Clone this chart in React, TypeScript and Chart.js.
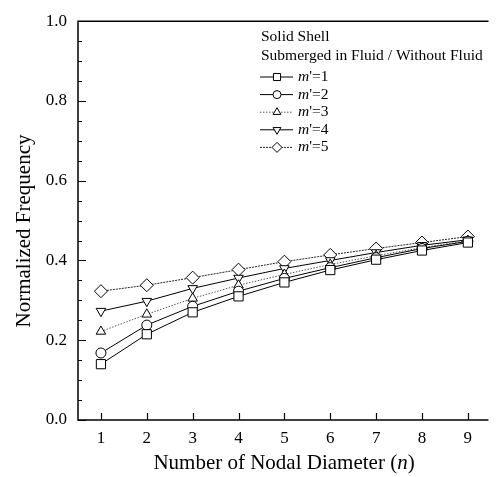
import React, { useEffect, useRef } from "react";
import { Chart, registerables } from "chart.js";
import { drawPoint } from "chart.js/helpers";

Chart.register(...registerables);

const nodalDiameters = [1, 2, 3, 4, 5, 6, 7, 8, 9];
const m1 = [0.14, 0.215, 0.27, 0.31, 0.345, 0.376, 0.402, 0.425, 0.445];
const m2 = [0.168, 0.238, 0.285, 0.323, 0.355, 0.382, 0.407, 0.43, 0.448];
const m3 = [0.222, 0.265, 0.305, 0.338, 0.365, 0.39, 0.412, 0.432, 0.45];
const m4 = [0.273, 0.298, 0.33, 0.356, 0.38, 0.4, 0.42, 0.438, 0.452];
const m5 = [0.323, 0.338, 0.357, 0.377, 0.397, 0.414, 0.43, 0.445, 0.46];
const seriesLabels = ["1", "2", "3", "4", "5"];
const xTicks = [1, 2, 3, 4, 5, 6, 7, 8, 9];
const yTicks = [0, 0.2, 0.4, 0.6, 0.8, 1.0];
const yMinorStep = 0.05;
const legendTitle = ["Solid Shell", "Submerged in Fluid / Without Fluid"];
const xTitle = ["Number of Nodal Diameter (", "n", ")"];
const yTitle = "Normalized Frequency";

const FONT = "'Liberation Serif', 'Times New Roman', serif";

const styles = [
  { pointStyle: "rect", radius: 6.5, legendRadius: 5, rotation: 0, dash: [] as number[], color: "#000" },
  { pointStyle: "circle", radius: 5, legendRadius: 4, rotation: 0, dash: [] as number[], color: "#000" },
  { pointStyle: "triangle", radius: 5.5, legendRadius: 4.5, rotation: 0, dash: [1.5, 1.5], color: "#555" },
  { pointStyle: "triangle", radius: 5.5, legendRadius: 4.5, rotation: 180, dash: [] as number[], color: "#000" },
  { pointStyle: "rectRot", radius: 6.5, legendRadius: 5, rotation: 0, dash: [2, 1], color: "#222" },
];

const overlay = {
  id: "overlay",
  afterDraw(chart: any) {
    const { ctx, chartArea: a, scales } = chart;
    const x = scales.x;
    const y = scales.y;
    ctx.save();
    ctx.strokeStyle = "#000";
    ctx.lineWidth = 1.5;
    ctx.beginPath();
    ctx.moveTo(a.right, a.top);
    ctx.lineTo(a.left, a.top);
    ctx.lineTo(a.left, a.bottom);
    ctx.lineTo(a.right, a.bottom);
    ctx.stroke();
    ctx.lineWidth = 1.2;
    ctx.beginPath();
    const n = Math.round((yTicks[yTicks.length - 1] - yTicks[0]) / yMinorStep);
    for (let i = 0; i <= n; i++) {
      const v = yTicks[0] + i * yMinorStep;
      const py = Math.round(y.getPixelForValue(v)) + 0.5;
      const major = i % 4 === 0;
      ctx.moveTo(a.left, py);
      ctx.lineTo(a.left + (major ? 8 : 4), py);
    }
    for (const v of xTicks) {
      const px = Math.round(x.getPixelForValue(v)) + 0.5;
      ctx.moveTo(px, a.bottom);
      ctx.lineTo(px, a.bottom - 7);
    }
    ctx.stroke();

    ctx.fillStyle = "#000";
    ctx.font = `21px ${FONT}`;
    ctx.textBaseline = "middle";
    ctx.save();
    ctx.translate(24, 231);
    ctx.rotate(-Math.PI / 2);
    ctx.textAlign = "center";
    ctx.fillText(yTitle, 0, 0);
    ctx.restore();

    const fonts = [`21px ${FONT}`, `italic 21px ${FONT}`, `21px ${FONT}`];
    let total = 0;
    xTitle.forEach((t, i) => {
      ctx.font = fonts[i];
      total += ctx.measureText(t).width;
    });
    let cx = 284 - total / 2;
    ctx.textAlign = "left";
    xTitle.forEach((t, i) => {
      ctx.font = fonts[i];
      ctx.fillText(t, cx, 463);
      cx += ctx.measureText(t).width;
    });

    const lx = 261;
    ctx.font = `15.5px ${FONT}`;
    ctx.textAlign = "left";
    legendTitle.forEach((t, i) => {
      ctx.fillText(t, lx, 37 + i * 19);
    });
    seriesLabels.forEach((lab, i) => {
      const st = styles[i];
      const ly = 77 + i * 17.6;
      ctx.save();
      ctx.strokeStyle = st.color;
      ctx.lineWidth = 1;
      ctx.setLineDash(st.dash);
      ctx.beginPath();
      ctx.moveTo(lx - 1, ly);
      ctx.lineTo(lx + 32, ly);
      ctx.stroke();
      ctx.setLineDash([]);
      ctx.strokeStyle = "#000";
      ctx.fillStyle = "#fff";
      drawPoint(ctx, { pointStyle: st.pointStyle, radius: st.legendRadius, rotation: st.rotation, borderWidth: 1 }, lx + 16, ly);
      ctx.restore();
      let tx = lx + 37;
      ctx.font = `italic 15.5px ${FONT}`;
      ctx.fillText("m", tx, ly);
      tx += ctx.measureText("m").width;
      ctx.font = `15.5px ${FONT}`;
      ctx.fillText("'=" + lab, tx, ly);
    });
    ctx.restore();
  },
};

export default function App() {
  const ref = useRef<HTMLCanvasElement>(null);
  useEffect(() => {
    document.body.style.margin = "0";
    const all = [m1, m2, m3, m4, m5];
    const chart = new Chart(ref.current as HTMLCanvasElement, {
      type: "line",
      data: {
        datasets: all.map((vals, i) => ({
          label: "m'=" + seriesLabels[i],
          data: nodalDiameters.map((n, j) => ({ x: n, y: vals[j] })),
          borderColor: styles[i].color,
          borderWidth: 1,
          borderDash: styles[i].dash,
          pointStyle: styles[i].pointStyle as any,
          pointRadius: styles[i].radius,
          pointRotation: styles[i].rotation,
          pointBackgroundColor: "#fff",
          pointBorderColor: "#000",
          pointBorderWidth: 1,
          tension: 0,
          fill: false,
        })),
      },
      options: {
        responsive: false,
        animation: false,
        layout: { padding: { top: 16, right: 1, left: 0, bottom: 0 } },
        plugins: { legend: { display: false }, tooltip: { enabled: false } },
        scales: {
          x: {
            type: "linear",
            min: 0.5,
            max: 9.45,
            afterBuildTicks: (s: any) => {
              s.ticks = xTicks.map((v) => ({ value: v }));
            },
            afterFit: (s: any) => {
              s.height = 57;
            },
            grid: { display: false, drawTicks: false },
            border: { display: false },
            ticks: {
              padding: 8,
              color: "#000",
              font: { family: FONT, size: 17 },
              callback: (v: any) => String(v),
            },
          },
          y: {
            type: "linear",
            min: 0,
            max: 1,
            afterBuildTicks: (s: any) => {
              s.ticks = yTicks.map((v) => ({ value: v }));
            },
            afterFit: (s: any) => {
              s.width = 78;
            },
            grid: { display: false, drawTicks: false },
            border: { display: false },
            ticks: {
              padding: 11,
              color: "#000",
              font: { family: FONT, size: 17 },
              callback: (v: any) => Number(v).toFixed(1),
            },
          },
        },
      },
      plugins: [overlay],
    });
    return () => chart.destroy();
  }, []);
  return (
    <div style={{ position: "fixed", left: 0, top: 0, width: 496, height: 477, background: "#fff" }}>
      <canvas ref={ref} width={496} height={477} />
    </div>
  );
}
